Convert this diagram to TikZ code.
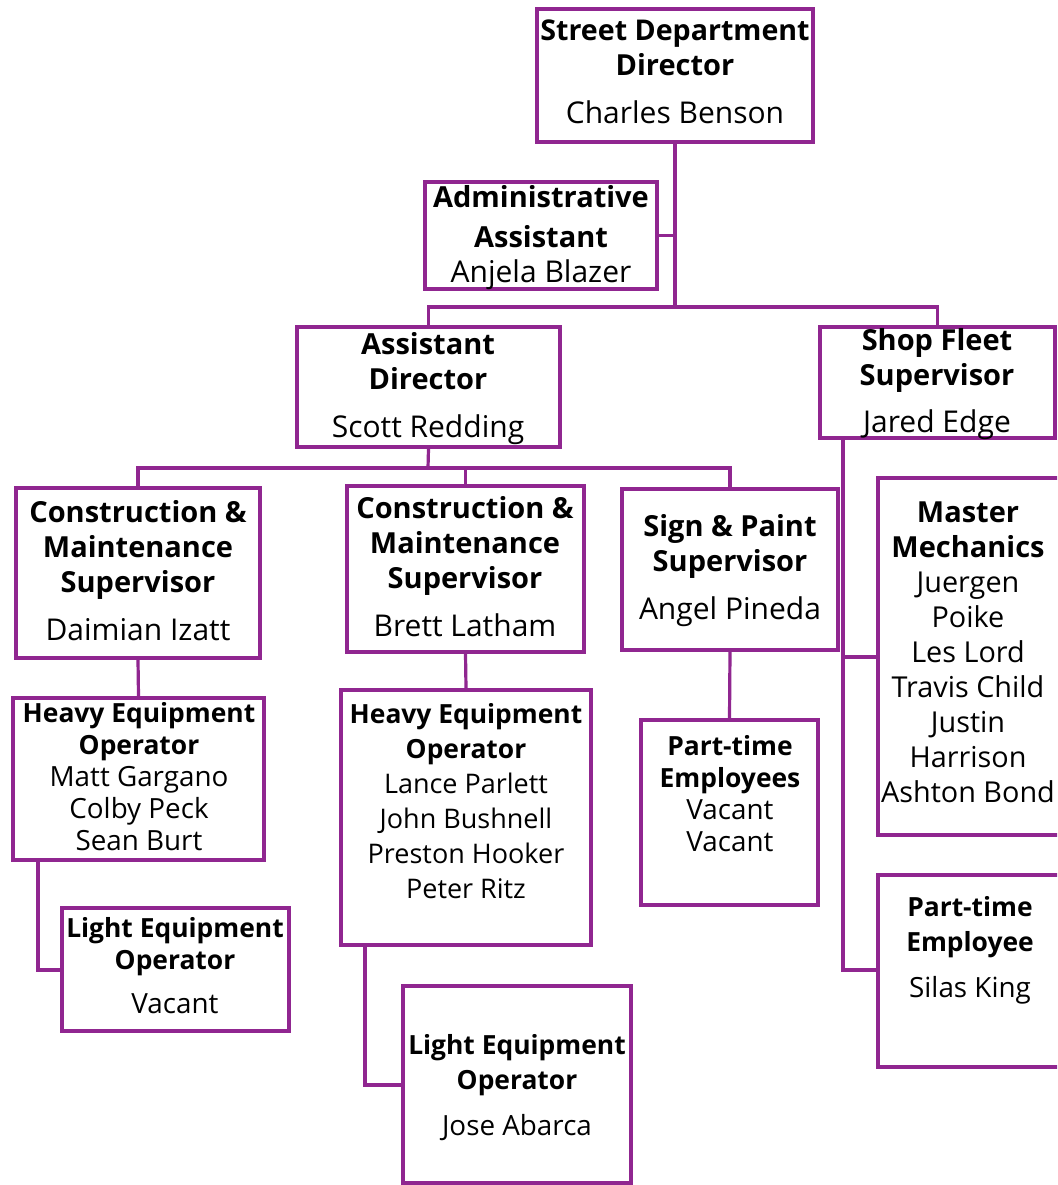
\documentclass[tikz,border=0pt]{standalone}
\usepackage{fontspec}
\setmainfont{Open Sans}
\definecolor{orgline}{RGB}{144,38,144}
% title lines of the large and the small boxes
\newcommand\ttl[1]{{\fontsize{29}{35}\selectfont\bfseries #1}}
\newcommand\sttl[1]{{\fontsize{26.4}{35}\selectfont\bfseries #1}}
\tikzset{
  x=1pt, y=-1pt,
  orgbox/.style={draw=orgline, line width=3.2pt, fill=white},
  link/.style={draw=orgline, line width=3.2pt},
  label text/.style={anchor=north, align=center, inner sep=0pt, text=black,
    font=\fontsize{30}{35}\selectfont},
  small text/.style={label text, font=\fontsize{27.8}{35}\selectfont},
  tight text/.style={label text, font=\fontsize{27.8}{32}\selectfont},
}
\newcommand\orgrect[5]{%
  \node[orgbox, minimum width={#4-#2}, minimum height={#5-#3}, inner sep=0pt]
    (#1) at ({(#2+#4)/2},{(#3+#5)/2}) {};}
\begin{document}
\begin{tikzpicture}
\clip (0,0) rectangle (1057,1185);
\fill[white] (0,0) rectangle (1057,1185);

% bend points of the connectors
\coordinate (busA) at (675,307);
\coordinate (busB) at (428,468);
\coordinate (heoOneTurn) at (38,970);
\coordinate (heoTwoTurn) at (365,1085);
\coordinate (shopMid) at (843,657);
\coordinate (shopEnd) at (843,970);

% boxes
\orgrect{dir}{537}{9}{813}{142}
\orgrect{admin}{425}{182}{657}{289}
\orgrect{asst}{297}{327}{560}{447}
\orgrect{shop}{820}{327}{1055}{438}
\orgrect{cmA}{16}{488}{260}{658}
\orgrect{cmB}{347}{486}{584}{652}
\orgrect{sign}{622}{489}{838}{650}
\orgrect{mech}{878}{478}{1075}{835}
\orgrect{heoA}{13}{698}{264}{860}
\orgrect{heoB}{341}{690}{591}{945}
\orgrect{ptA}{641}{720}{818}{905}
\orgrect{ptB}{878}{875}{1075}{1067}
\orgrect{leoA}{62}{908}{289}{1031}
\orgrect{leoB}{403}{986}{631}{1183}

% connectors
\draw[link] (dir.south) -- (busA);
\draw[link] (admin.east) -- (admin.east -| busA);
\draw[link] (asst.north) |- (busA) -| (shop.north);
\draw[link] (asst.south) -- (busB);
\draw[link] (cmA.north) |- (busB) -| (sign.north);
\draw[link] (busB -| cmB.north) -- (cmB.north);
\draw[link] (cmA.south) -- (heoA.north);
\draw[link] (cmB.south) -- (heoB.north);
\draw[link] (sign.south) -- (ptA.north);
\draw[link] (heoA.south -| heoOneTurn) -- (heoOneTurn) -- (heoOneTurn -| leoA.west);
\draw[link] (heoB.south -| heoTwoTurn) -- (heoTwoTurn) -- (heoTwoTurn -| leoB.west);
\draw[link] (shop.south -| shopEnd) -- (shopEnd) -- (shopEnd -| ptB.west);
\draw[link] (shopMid) -- (shopMid -| mech.west);

% texts
\node[label text] (tDir) at (675,20) {{\fontsize{28.6}{35}\selectfont\bfseries Street Department}\\\ttl{Director}\\[13pt]Charles Benson};
\node[label text] (tAdmin) at (541,185) {\ttl{Administrative}\\[5pt]\ttl{Assistant}\\Anjela Blazer};
\node[label text] (tAsst) at (428,332) {\ttl{Assistant}\\\ttl{Director}\\[13pt]Scott Redding};
\node[label text] (tShop) at (937,328) {\ttl{Shop Fleet}\\\ttl{Supervisor}\\[12pt]Jared Edge};
\node[label text] (tCmA) at (138,500) {\ttl{Construction \&}\\\ttl{Maintenance}\\\ttl{Supervisor}\\[13pt]Daimian Izatt};
\node[label text] (tCmB) at (465,496) {\ttl{Construction \&}\\\ttl{Maintenance}\\\ttl{Supervisor}\\[13pt]Brett Latham};
\node[label text] (tSign) at (730,514) {\ttl{Sign \& Paint}\\\ttl{Supervisor}\\[13pt]Angel Pineda};
\node[label text, font=\fontsize{28.8}{35}\selectfont] (tMech) at (968,502) {\ttl{Master}\\\ttl{Mechanics}\\Juergen\\Poike\\Les Lord\\Travis Child\\Justin\\Harrison\\Ashton Bond};
\node[tight text] (tHeoA) at (139,702) {\sttl{Heavy Equipment}\\\sttl{Operator}\\Matt Gargano\\Colby Peck\\Sean Burt};
\node[small text, font=\fontsize{27}{35}\selectfont] (tHeoB) at (466,703) {\sttl{Heavy Equipment}\\\sttl{Operator}\\Lance Parlett\\John Bushnell\\Preston Hooker\\Peter Ritz};
\node[tight text] (tPtA) at (730,735) {\sttl{Part-time}\\\sttl{Employees}\\Vacant\\Vacant};
\node[small text] (tPtB) at (970,896) {\sttl{Part-time}\\\sttl{Employee}\\[11pt]Silas King};
\node[tight text] (tLeoA) at (175,917) {\sttl{Light Equipment}\\\sttl{Operator}\\[12pt]Vacant};
\node[small text] (tLeoB) at (517,1034) {\sttl{Light Equipment}\\\sttl{Operator}\\[11pt]Jose Abarca};
\end{tikzpicture}
\end{document}
